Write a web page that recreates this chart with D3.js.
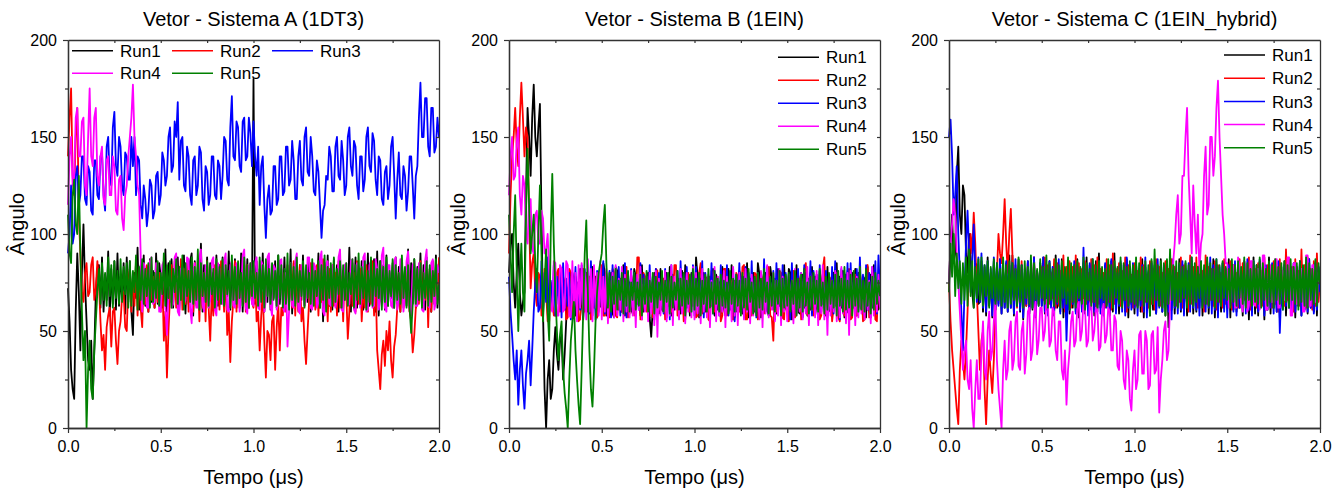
<!DOCTYPE html>
<html>
<head>
<meta charset="utf-8">
<script src="https://cdn.jsdelivr.net/npm/d3@7"></script>
<style>
  body { margin: 0; background: #fff; }
  svg { display: block; font-family: "Liberation Sans", Arial, sans-serif; }
</style>
</head>
<body>
<div class="chart"></div>
<script>
// sampling grid: 241 points over 0..2 us (one row of 20 = 1/6 us)
const tempo = d3.range(241).map(i => i / 120)
const runNames = ["Run1", "Run2", "Run3", "Run4", "Run5"]
const runColors = ["#000000", "#ff0000", "#0000ff", "#ff00ff", "#008000"]
const xTickValues = [0, 0.5, 1, 1.5, 2]
const xTickLabels = ["0.0", "0.5", "1.0", "1.5", "2.0"]
const yTickValues = [0, 50, 100, 150, 200]
const yTickLabels = ["0", "50", "100", "150", "200"]
const titles = ["Vetor - Sistema A (1DT3)", "Vetor - Sistema B (1EIN)", "Vetor - Sistema C (1EIN_hybrid)"]

// ---- Sistema A
const sistemaA_run1 = [
  72, 55, 30, 20, 15, 60, 90, 70, 40, 80, 105, 75, 55, 35, 30, 45, 15, 40, 70, 82,
  84, 62, 88, 60, 79, 66, 91, 58, 82, 64, 86, 61, 90, 63, 78, 67, 85, 59, 88, 65,
  86, 60, 48, 80, 67, 93, 61, 84, 66, 89, 63, 83, 60, 87, 65, 81, 62, 90, 64, 85,
  78, 62, 69, 92, 60, 85, 65, 87, 62, 81, 70, 88, 61, 84, 66, 89, 59, 83, 64, 86,
  90, 58, 86, 64, 83, 67, 95, 60, 84, 66, 88, 62, 85, 65, 80, 61, 89, 63, 84, 67,
  88, 63, 80, 68, 91, 61, 85, 65, 87, 62, 83, 66, 90, 60, 84, 64, 87, 62, 81, 66,
  180, 64, 86, 63, 82, 69, 90, 60, 84, 65, 88, 61, 83, 67, 86, 62, 89, 64, 82, 66,
  88, 62, 81, 67, 92, 59, 85, 64, 87, 61, 84, 66, 89, 63, 80, 65, 86, 60, 83, 67,
  83, 68, 90, 62, 86, 55, 84, 66, 89, 63, 82, 61, 87, 65, 84, 60, 88, 64, 81, 66,
  80, 67, 93, 60, 85, 64, 88, 62, 82, 69, 86, 61, 84, 65, 90, 63, 83, 66, 87, 60,
  91, 58, 86, 65, 84, 61, 89, 63, 80, 67, 85, 62, 88, 64, 83, 60, 86, 66, 82, 63,
  92, 60, 85, 64, 87, 62, 83, 66, 90, 63, 84, 61, 88, 65, 82, 60, 86, 64, 89, 62,
  78]
const sistemaA_run2 = [
  140, 160, 175, 130, 120, 150, 165, 110, 90, 70, 65, 80, 85, 68, 70, 84, 88, 66, 72, 86,
  75, 55, 40, 48, 30, 52, 58, 62, 42, 60, 62, 45, 33, 50, 55, 68, 70, 52, 50, 74,
  82, 60, 78, 63, 86, 58, 80, 62, 52, 80, 64, 84, 60, 86, 66, 78, 62, 84, 65, 80,
  60, 78, 45, 60, 26, 50, 68, 84, 64, 86, 62, 78, 66, 87, 61, 82, 64, 85, 60, 80,
  81, 60, 85, 63, 79, 55, 84, 62, 80, 55, 86, 62, 45, 70, 58, 84, 64, 80, 61, 86,
  75, 60, 82, 48, 60, 34, 55, 66, 86, 60, 84, 62, 78, 65, 86, 60, 84, 62, 80, 65,
  62, 80, 55, 60, 40, 58, 70, 45, 26, 50, 48, 35, 55, 58, 30, 52, 65, 40, 62, 58,
  80, 60, 84, 64, 78, 62, 86, 58, 82, 60, 84, 55, 62, 45, 33, 50, 66, 85, 62, 80,
  61, 84, 58, 79, 65, 87, 62, 76, 55, 82, 60, 84, 63, 80, 58, 86, 62, 78, 55, 82,
  70, 46, 60, 85, 63, 80, 60, 86, 64, 82, 55, 72, 62, 84, 60, 80, 64, 86, 58, 78,
  40, 30, 20, 38, 45, 32, 50, 40, 55, 35, 26, 42, 48, 62, 80, 60, 84, 62, 66, 80,
  84, 60, 55, 39, 48, 62, 78, 64, 86, 62, 80, 66, 84, 52, 82, 60, 86, 64, 80, 66,
  88]
const sistemaA_run3 = [
  90, 100, 125, 95, 100, 130, 135, 115, 120, 140, 140, 118, 115, 135, 132, 112, 110, 138, 138, 120,
  118, 140, 142, 120, 112, 145, 150, 128, 125, 155, 163, 135, 130, 150, 145, 125, 120, 142, 140, 128,
  128, 150, 135, 150, 120, 140, 138, 115, 108, 125, 118, 104, 112, 128, 125, 108, 112, 130, 132, 115,
  120, 142, 138, 125, 130, 150, 155, 132, 135, 158, 150, 168, 128, 148, 150, 125, 122, 145, 140, 120,
  115, 138, 140, 120, 125, 145, 142, 118, 112, 135, 132, 115, 120, 140, 140, 120, 118, 138, 135, 118,
  130, 150, 148, 128, 125, 155, 171, 140, 138, 158, 155, 135, 132, 158, 160, 138, 140, 160, 152, 135,
  158, 140, 130, 145, 115, 135, 140, 115, 98, 118, 125, 110, 112, 135, 135, 115, 118, 140, 140, 120,
  122, 145, 145, 125, 128, 148, 138, 118, 118, 140, 148, 128, 125, 150, 155, 132, 130, 150, 140, 122,
  120, 138, 132, 115, 98, 112, 115, 130, 128, 145, 140, 122, 122, 145, 150, 130, 128, 148, 138, 120,
  125, 150, 155, 135, 130, 148, 145, 125, 118, 140, 140, 122, 128, 150, 155, 135, 132, 152, 148, 128,
  120, 140, 138, 118, 115, 132, 135, 118, 125, 145, 150, 130, 108, 128, 142, 120, 118, 135, 130, 112,
  122, 140, 140, 125, 108, 130, 135, 160, 178, 150, 150, 170, 170, 145, 140, 165, 165, 142, 145, 160,
  150]
const sistemaA_run4 = [
  115, 140, 150, 125, 130, 160, 165, 140, 140, 158, 160, 125, 120, 150, 175, 140, 135, 160, 165, 130,
  125, 140, 145, 118, 115, 138, 140, 120, 120, 140, 135, 112, 110, 128, 130, 108, 102, 120, 125, 140,
  150, 160, 177, 150, 140, 125, 120, 90, 60, 85, 82, 62, 62, 86, 88, 64, 65, 85, 84, 60,
  60, 84, 86, 62, 48, 70, 80, 62, 64, 88, 90, 60, 58, 82, 83, 64, 66, 88, 87, 62,
  54, 80, 85, 62, 62, 88, 92, 64, 60, 84, 84, 62, 66, 86, 88, 61, 58, 85, 82, 64,
  64, 86, 90, 61, 60, 84, 86, 63, 62, 85, 80, 60, 67, 89, 92, 62, 59, 83, 85, 64,
  63, 85, 88, 62, 61, 86, 84, 60, 66, 88, 90, 63, 58, 84, 82, 61, 64, 86, 87, 62,
  60, 80, 42, 60, 85, 63, 62, 86, 90, 61, 59, 84, 84, 63, 66, 88, 88, 62, 61, 85,
  83, 62, 65, 87, 91, 60, 58, 85, 86, 64, 63, 84, 80, 62, 67, 88, 92, 61, 60, 84,
  85, 63, 64, 86, 87, 61, 59, 85, 83, 62, 68, 88, 90, 60, 61, 84, 86, 62, 63, 87,
  82, 61, 66, 89, 93, 62, 60, 84, 84, 63, 62, 86, 88, 61, 65, 87, 81, 60, 67, 86,
  91, 62, 58, 84, 86, 63, 63, 85, 84, 61, 60, 86, 92, 63, 62, 85, 87, 61, 65, 84,
  80]
const sistemaA_run5 = [
  110, 90, 85, 120, 128, 105, 100, 130, 90, 60, 35, 50, 0, 30, 45, 20, 15, 40, 55, 70,
  82, 64, 85, 66, 80, 63, 88, 68, 84, 62, 86, 67, 81, 64, 87, 65, 83, 69, 85, 62,
  86, 63, 81, 70, 89, 61, 83, 66, 87, 64, 82, 68, 85, 62, 88, 65, 80, 67, 86, 63,
  80, 69, 90, 63, 84, 67, 86, 62, 82, 70, 87, 64, 83, 66, 89, 61, 85, 68, 81, 65,
  88, 64, 83, 66, 92, 61, 85, 68, 80, 65, 86, 63, 84, 69, 82, 62, 87, 66, 83, 64,
  87, 63, 84, 69, 81, 62, 89, 66, 83, 64, 86, 67, 80, 63, 88, 65, 84, 62, 85, 68,
  86, 67, 80, 63, 88, 65, 84, 62, 87, 68, 82, 64, 85, 66, 81, 63, 89, 67, 84, 62,
  82, 64, 90, 61, 85, 66, 83, 63, 88, 65, 81, 68, 86, 62, 84, 67, 80, 64, 87, 63,
  81, 68, 86, 62, 84, 66, 89, 60, 83, 67, 85, 63, 88, 65, 82, 69, 86, 62, 84, 66,
  85, 63, 80, 69, 87, 62, 84, 66, 90, 64, 83, 67, 86, 61, 81, 65, 88, 63, 85, 68,
  82, 67, 86, 61, 83, 65, 88, 63, 81, 68, 87, 62, 84, 66, 80, 64, 89, 67, 83, 62,
  84, 62, 49, 64, 87, 64, 82, 66, 85, 62, 80, 67, 86, 63, 84, 65, 81, 68, 87, 64,
  74]

// ---- Sistema B
const sistemaB_run1 = [
  80, 95, 100, 75, 62, 80, 95, 70, 58, 65, 70, 120, 165, 150, 130, 160, 177, 150, 140, 155,
  167, 110, 60, 20, 0, 25, 35, 15, 20, 40, 52, 38, 30, 45, 48, 25, 38, 55, 72, 60,
  60, 80, 76, 58, 75, 62, 82, 64, 56, 78, 80, 60, 76, 58, 83, 62, 78, 57, 76, 63,
  62, 85, 80, 58, 74, 63, 80, 59, 57, 83, 81, 61, 77, 60, 84, 58, 79, 62, 75, 61,
  59, 82, 78, 64, 75, 58, 84, 60, 62, 78, 80, 57, 47, 62, 80, 63, 76, 59, 82, 61,
  60, 76, 80, 63, 83, 58, 79, 61, 62, 75, 77, 59, 81, 60, 84, 62, 76, 58, 80, 63,
  64, 88, 78, 57, 77, 62, 80, 60, 60, 74, 78, 63, 82, 58, 79, 61, 75, 59, 83, 62,
  58, 79, 82, 61, 84, 56, 76, 60, 63, 81, 78, 59, 78, 62, 85, 57, 77, 63, 80, 60,
  62, 85, 79, 57, 75, 64, 80, 61, 58, 83, 77, 61, 77, 59, 82, 63, 76, 57, 84, 62,
  60, 82, 80, 56, 78, 63, 84, 60, 59, 76, 79, 62, 80, 58, 77, 61, 83, 60, 78, 63,
  57, 81, 76, 64, 77, 58, 83, 61, 60, 79, 80, 63, 85, 59, 78, 62, 81, 57, 79, 60,
  59, 76, 80, 62, 82, 58, 80, 63, 61, 78, 77, 57, 83, 60, 79, 62, 84, 58, 76, 61,
  66]
const sistemaB_run2 = [
  90, 120, 140, 150, 165, 145, 135, 160, 178, 160, 140, 155, 150, 110, 72, 85, 90, 70, 63, 80,
  78, 58, 60, 82, 70, 55, 55, 75, 66, 58, 58, 80, 82, 60, 62, 78, 75, 56, 57, 82,
  80, 58, 60, 78, 73, 55, 56, 82, 82, 60, 63, 78, 78, 56, 58, 80, 70, 57, 60, 76,
  84, 58, 58, 80, 76, 57, 62, 82, 80, 58, 57, 74, 72, 60, 64, 83, 83, 57, 59, 79,
  75, 58, 61, 88, 88, 56, 56, 80, 78, 60, 62, 76, 74, 57, 58, 82, 81, 61, 63, 77,
  77, 56, 57, 78, 70, 60, 62, 84, 84, 58, 59, 80, 76, 55, 56, 80, 80, 60, 63, 75,
  72, 57, 58, 80, 85, 59, 61, 78, 77, 56, 55, 81, 79, 60, 63, 78, 73, 55, 58, 82,
  82, 58, 60, 77, 75, 56, 57, 80, 78, 60, 62, 83, 84, 56, 56, 78, 71, 58, 60, 80,
  79, 56, 58, 80, 76, 59, 61, 82, 83, 58, 57, 45, 74, 60, 62, 81, 80, 57, 56, 78,
  73, 55, 60, 70, 81, 57, 60, 79, 76, 56, 58, 82, 85, 59, 57, 80, 78, 58, 61, 79,
  74, 56, 58, 82, 88, 59, 59, 78, 77, 55, 62, 80, 80, 57, 55, 79, 75, 58, 60, 81,
  82, 56, 57, 78, 79, 58, 61, 80, 74, 55, 56, 82, 84, 57, 59, 80, 77, 56, 55, 79,
  68]
const sistemaB_run3 = [
  78, 60, 48, 35, 25, 40, 12, 30, 40, 22, 10, 28, 35, 45, 22, 40, 60, 75, 82, 60,
  62, 86, 58, 80, 65, 88, 60, 76, 62, 84, 58, 78, 64, 82, 57, 85, 61, 77, 63, 80,
  56, 80, 64, 83, 58, 75, 61, 84, 57, 82, 63, 77, 59, 86, 62, 79, 56, 81, 64, 78,
  63, 86, 59, 78, 62, 81, 57, 84, 60, 79, 64, 83, 58, 77, 61, 85, 57, 80, 62, 82,
  64, 80, 58, 77, 61, 85, 57, 79, 63, 76, 59, 84, 62, 78, 56, 82, 60, 80, 63, 77,
  59, 82, 62, 78, 56, 84, 60, 75, 63, 81, 58, 86, 61, 79, 57, 83, 62, 77, 60, 84,
  58, 83, 61, 77, 64, 86, 57, 80, 60, 78, 62, 85, 59, 81, 63, 76, 58, 84, 61, 79,
  62, 84, 58, 76, 61, 82, 55, 79, 63, 85, 60, 78, 57, 83, 62, 80, 59, 86, 61, 77,
  57, 80, 62, 78, 59, 87, 60, 83, 58, 77, 63, 81, 56, 85, 61, 79, 58, 84, 62, 80,
  61, 79, 56, 85, 62, 77, 59, 82, 63, 80, 57, 84, 60, 78, 62, 86, 58, 81, 61, 79,
  58, 84, 60, 76, 62, 81, 57, 79, 61, 83, 59, 86, 63, 78, 56, 82, 60, 80, 62, 85,
  56, 85, 62, 78, 59, 82, 60, 88, 63, 79, 58, 84, 61, 80, 57, 83, 62, 86, 59, 89,
  70]
const sistemaB_run4 = [
  120, 140, 150, 128, 130, 148, 155, 120, 110, 130, 125, 100, 95, 118, 118, 92, 90, 110, 112, 95,
  95, 112, 108, 90, 92, 100, 80, 62, 60, 86, 85, 58, 58, 84, 82, 60, 62, 86, 84, 58,
  57, 86, 60, 80, 55, 84, 62, 85, 58, 80, 56, 87, 60, 82, 55, 84, 62, 80, 58, 86,
  56, 78, 60, 82, 54, 76, 62, 80, 57, 84, 58, 77, 61, 83, 55, 79, 60, 75, 57, 81,
  58, 75, 52, 79, 61, 83, 56, 74, 60, 78, 55, 80, 59, 76, 53, 81, 47, 77, 58, 74,
  60, 81, 55, 76, 58, 84, 53, 78, 61, 75, 56, 82, 59, 77, 54, 80, 60, 76, 57, 83,
  56, 80, 59, 74, 54, 82, 60, 77, 57, 79, 52, 76, 61, 83, 55, 78, 58, 75, 60, 81,
  52, 78, 61, 75, 55, 83, 58, 76, 53, 80, 59, 74, 56, 82, 60, 77, 54, 79, 58, 75,
  60, 74, 56, 81, 52, 77, 59, 84, 57, 75, 61, 80, 55, 76, 58, 82, 53, 78, 60, 74,
  55, 79, 61, 76, 54, 82, 58, 75, 60, 80, 56, 77, 59, 83, 53, 78, 61, 75, 57, 81,
  53, 77, 59, 84, 56, 74, 48, 79, 58, 76, 60, 81, 55, 75, 57, 83, 59, 77, 54, 80,
  48, 81, 60, 75, 53, 78, 57, 82, 59, 74, 56, 80, 61, 76, 54, 83, 58, 77, 60, 79,
  62]
const sistemaB_run5 = [
  110, 90, 70, 100, 120, 80, 50, 75, 95, 70, 60, 110, 144, 115, 90, 100, 110, 85, 70, 100,
  125, 90, 55, 75, 92, 60, 45, 100, 131, 95, 70, 50, 35, 48, 55, 30, 18, 10, 0, 25,
  45, 55, 65, 40, 25, 12, 2, 30, 60, 90, 107, 70, 40, 20, 11, 30, 55, 70, 80, 85,
  90, 105, 115, 85, 62, 80, 60, 78, 64, 82, 61, 76, 66, 80, 59, 77, 63, 81, 60, 75,
  66, 80, 61, 75, 63, 79, 58, 77, 64, 81, 60, 76, 65, 80, 59, 78, 62, 75, 66, 81,
  60, 76, 65, 80, 59, 78, 62, 75, 66, 81, 61, 77, 63, 80, 58, 76, 64, 79, 60, 82,
  61, 77, 63, 80, 58, 76, 64, 79, 60, 82, 62, 75, 59, 81, 64, 77, 60, 79, 63, 76,
  62, 75, 59, 81, 64, 77, 60, 79, 63, 76, 58, 80, 62, 77, 61, 82, 65, 75, 59, 78,
  58, 80, 62, 77, 61, 82, 65, 75, 59, 78, 63, 80, 60, 76, 64, 81, 58, 77, 62, 79,
  63, 80, 60, 76, 64, 81, 58, 77, 62, 79, 60, 82, 63, 75, 59, 78, 61, 80, 64, 76,
  60, 82, 63, 75, 59, 78, 61, 80, 64, 76, 62, 79, 58, 81, 63, 77, 60, 83, 61, 76,
  62, 79, 58, 81, 63, 77, 60, 83, 61, 76, 60, 82, 63, 75, 59, 78, 61, 80, 64, 76,
  68]

// ---- Sistema C
const sistemaC_run1 = [
  75, 95, 110, 85, 90, 130, 145, 110, 100, 125, 120, 90, 80, 100, 88, 70, 62, 85, 84, 64,
  65, 86, 60, 83, 58, 88, 63, 80, 57, 86, 61, 84, 64, 87, 59, 82, 62, 85, 60, 89,
  62, 89, 58, 82, 64, 87, 60, 84, 56, 80, 63, 86, 59, 83, 61, 88, 57, 81, 64, 85,
  63, 88, 59, 84, 61, 86, 64, 81, 58, 89, 62, 83, 60, 87, 57, 82, 63, 85, 59, 80,
  62, 83, 60, 87, 57, 80, 63, 85, 59, 88, 61, 84, 64, 82, 58, 86, 60, 90, 62, 79,
  61, 84, 64, 82, 58, 86, 60, 90, 62, 79, 59, 85, 63, 81, 60, 87, 57, 83, 64, 80,
  59, 85, 63, 81, 60, 87, 57, 83, 64, 80, 58, 86, 61, 84, 59, 80, 63, 87, 60, 83,
  58, 86, 52, 82, 61, 84, 59, 80, 63, 87, 60, 83, 62, 85, 58, 81, 64, 86, 59, 82,
  60, 83, 62, 85, 58, 81, 64, 86, 59, 82, 63, 87, 57, 84, 61, 80, 60, 85, 62, 82,
  63, 87, 57, 84, 61, 80, 60, 85, 62, 82, 58, 86, 63, 83, 56, 80, 61, 88, 59, 84,
  58, 86, 63, 83, 56, 80, 61, 88, 59, 84, 62, 81, 60, 85, 57, 83, 63, 86, 58, 80,
  62, 81, 60, 85, 57, 83, 63, 86, 58, 80, 61, 84, 59, 87, 62, 82, 60, 85, 58, 83,
  70]
const sistemaC_run2 = [
  75, 55, 40, 30, 20, 10, 2, 30, 45, 35, 25, 40, 60, 85, 100, 90, 111, 95, 70, 50,
  30, 45, 50, 20, 2, 25, 40, 28, 18, 35, 60, 80, 100, 90, 85, 100, 118, 95, 80, 100,
  113, 90, 70, 84, 62, 80, 65, 86, 60, 78, 63, 85, 61, 82, 66, 88, 62, 80, 64, 84,
  82, 66, 88, 61, 84, 64, 80, 67, 87, 62, 85, 63, 81, 66, 89, 60, 83, 65, 86, 62,
  83, 65, 89, 60, 85, 66, 82, 63, 86, 64, 80, 62, 87, 65, 84, 61, 88, 64, 82, 66,
  80, 62, 87, 65, 84, 61, 90, 64, 82, 67, 85, 63, 81, 66, 88, 60, 84, 65, 79, 62,
  85, 63, 81, 66, 88, 60, 84, 65, 79, 62, 86, 64, 82, 61, 87, 66, 83, 63, 80, 65,
  86, 64, 82, 61, 87, 66, 83, 63, 80, 65, 88, 62, 84, 67, 81, 60, 89, 64, 83, 66,
  88, 62, 84, 67, 81, 60, 89, 64, 83, 66, 82, 63, 86, 61, 84, 65, 80, 62, 87, 64,
  82, 63, 86, 61, 84, 65, 80, 62, 87, 64, 85, 66, 81, 63, 88, 61, 84, 65, 82, 62,
  85, 66, 81, 63, 88, 61, 84, 65, 82, 62, 86, 64, 83, 60, 87, 65, 81, 63, 92, 66,
  86, 64, 83, 60, 87, 65, 81, 63, 92, 66, 84, 62, 88, 64, 82, 61, 86, 63, 90, 65,
  75]
const sistemaC_run3 = [
  150, 159, 140, 110, 120, 135, 100, 80, 60, 40, 70, 95, 112, 90, 70, 85, 105, 80, 65, 88,
  65, 90, 62, 84, 60, 86, 64, 82, 58, 88, 61, 85, 63, 87, 59, 83, 62, 86, 60, 84,
  62, 85, 59, 87, 63, 80, 61, 84, 57, 82, 64, 86, 60, 83, 62, 88, 58, 81, 63, 85,
  63, 88, 60, 82, 58, 86, 62, 83, 60, 80, 64, 87, 59, 84, 62, 81, 45, 70, 61, 80,
  64, 86, 59, 84, 62, 80, 60, 93, 63, 82, 58, 85, 61, 87, 60, 83, 62, 86, 59, 81,
  58, 85, 62, 81, 60, 87, 64, 83, 59, 80, 63, 86, 60, 84, 58, 88, 62, 82, 61, 85,
  62, 86, 58, 82, 63, 84, 60, 88, 57, 81, 61, 85, 64, 83, 59, 87, 62, 80, 60, 84,
  63, 85, 60, 83, 56, 87, 62, 80, 59, 84, 61, 86, 58, 82, 64, 85, 60, 88, 62, 81,
  61, 82, 58, 86, 63, 81, 60, 85, 62, 88, 59, 84, 61, 87, 57, 83, 63, 85, 60, 82,
  57, 84, 63, 80, 60, 86, 58, 83, 62, 81, 64, 85, 59, 87, 61, 82, 58, 86, 63, 80,
  60, 87, 63, 82, 58, 84, 61, 80, 62, 85, 59, 83, 60, 86, 49, 72, 61, 84, 63, 81,
  62, 83, 59, 85, 60, 81, 63, 86, 58, 82, 61, 84, 60, 87, 62, 80, 59, 85, 61, 83,
  70]
const sistemaC_run4 = [
  75, 95, 105, 118, 110, 90, 75, 60, 45, 30, 40, 45, 25, 20, 35, 10, 0, 20, 35, 15,
  15, 40, 55, 30, 25, 50, 60, 35, 40, 55, 65, 35, 20, 10, 0, 30, 45, 25, 30, 50,
  55, 30, 35, 55, 60, 32, 30, 50, 55, 28, 38, 60, 62, 35, 40, 58, 65, 38, 45, 62,
  62, 45, 50, 66, 65, 42, 45, 62, 60, 40, 35, 55, 55, 30, 25, 40, 12, 30, 40, 55,
  60, 42, 45, 63, 65, 45, 50, 66, 62, 42, 45, 64, 66, 45, 50, 62, 62, 40, 42, 60,
  64, 44, 48, 62, 60, 40, 40, 58, 55, 32, 30, 50, 45, 25, 20, 40, 35, 15, 9, 30,
  40, 20, 25, 48, 50, 28, 28, 50, 45, 20, 22, 48, 50, 28, 30, 52, 8, 25, 35, 50,
  55, 35, 40, 65, 75, 85, 95, 110, 120, 95, 100, 130, 130, 150, 165, 130, 110, 90, 125, 105,
  90, 110, 80, 95, 100, 130, 145, 110, 115, 150, 150, 130, 140, 165, 179, 150, 130, 110, 100, 85,
  85, 62, 65, 84, 84, 62, 62, 88, 83, 64, 60, 86, 83, 60, 63, 86, 86, 64, 63, 82,
  82, 61, 66, 89, 89, 61, 61, 84, 84, 65, 65, 87, 87, 62, 62, 81, 81, 66, 66, 88,
  88, 58, 58, 85, 85, 64, 64, 82, 82, 60, 60, 89, 89, 63, 63, 84, 84, 65, 65, 80,
  80]
const sistemaC_run5 = [
  70, 95, 78, 100, 68, 90, 72, 86, 64, 85, 66, 88, 63, 92, 68, 86, 62, 83, 67, 87,
  66, 88, 63, 84, 68, 86, 62, 83, 67, 87, 64, 85, 66, 82, 63, 88, 65, 84, 62, 86,
  64, 85, 66, 82, 63, 88, 65, 84, 62, 86, 67, 83, 64, 89, 62, 85, 66, 82, 63, 87,
  67, 83, 64, 89, 62, 85, 66, 82, 63, 87, 65, 84, 62, 86, 67, 83, 64, 88, 61, 85,
  65, 84, 62, 86, 67, 83, 64, 88, 61, 85, 66, 82, 63, 87, 65, 84, 62, 86, 67, 83,
  66, 82, 63, 87, 65, 84, 62, 86, 67, 83, 64, 88, 62, 85, 66, 83, 63, 86, 65, 84,
  64, 88, 62, 85, 66, 83, 63, 86, 65, 84, 58, 87, 64, 92, 66, 84, 63, 86, 62, 85,
  58, 87, 64, 92, 66, 84, 63, 86, 62, 85, 65, 83, 67, 86, 62, 84, 64, 88, 63, 85,
  65, 83, 67, 86, 62, 84, 64, 88, 63, 85, 66, 82, 62, 87, 65, 84, 63, 86, 67, 83,
  66, 82, 62, 87, 65, 84, 63, 86, 67, 83, 64, 88, 62, 85, 66, 82, 63, 86, 65, 84,
  64, 88, 62, 85, 66, 82, 63, 86, 65, 84, 62, 87, 66, 83, 64, 85, 61, 86, 65, 84,
  62, 87, 66, 83, 64, 85, 61, 86, 65, 84, 63, 88, 62, 85, 66, 82, 64, 87, 63, 85,
  74]

const width = 1344
const height = 490
const plotTop = 40
const plotW = 371
const plotH = 388

const panels = [
  { title: titles[0], left: 68,
    series: [sistemaA_run1, sistemaA_run2, sistemaA_run3, sistemaA_run4, sistemaA_run5],
    legend: { cols: 3, x: 4, y: 10.7, dx: 100, dy: 22.6 } },
  { title: titles[1], left: 509,
    series: [sistemaB_run1, sistemaB_run2, sistemaB_run3, sistemaB_run4, sistemaB_run5],
    legend: { cols: 1, x: 269, y: 17.3, dx: 0, dy: 23 } },
  { title: titles[2], left: 949,
    series: [sistemaC_run1, sistemaC_run2, sistemaC_run3, sistemaC_run4, sistemaC_run5],
    legend: { cols: 1, x: 275, y: 15, dx: 0, dy: 23.2 } }
]

const svg = d3.select(".chart").append("svg").attr("width", width).attr("height", height)

const xScale = d3.scaleLinear().domain([0, 2]).range([0, plotW])
const yScale = d3.scaleLinear().domain([0, 200]).range([plotH, 0])

const line = d3.line()
  .x((d, i) => xScale(tempo[i]))
  .y(d => yScale(d))

const styleAxis = g => {
  g.select(".domain").attr("stroke", "#333").attr("stroke-width", 1.3)
  g.selectAll(".tick line").attr("stroke", "#333").attr("stroke-width", 1.2)
  g.selectAll(".tick text").attr("fill", "#000").attr("font-size", 16)
}

panels.forEach(p => {
  const graph = svg.append("g").attr("transform", `translate(${p.left}, ${plotTop})`)

  // data lines (Run1 drawn first, Run5 on top)
  p.series.forEach((values, k) => {
    graph.append("path")
      .datum(values)
      .attr("fill", "none")
      .attr("stroke", runColors[k])
      .attr("stroke-width", 1.8)
      .attr("stroke-linejoin", "round")
      .attr("d", line)
  })

  // minor ticks
  graph.append("g")
    .attr("transform", `translate(0, ${plotH})`)
    .call(d3.axisBottom(xScale).tickValues([0.25, 0.75, 1.25, 1.75]).tickSize(3).tickSizeOuter(0).tickFormat(""))
    .call(styleAxis)
  graph.append("g")
    .call(d3.axisLeft(yScale).tickValues([25, 75, 125, 175]).tickSize(3).tickSizeOuter(0).tickFormat(""))
    .call(styleAxis)

  // mirrored inward ticks on top and right
  graph.append("g")
    .call(d3.axisTop(xScale).tickValues(d3.range(0.25, 2, 0.25)).tickSize(-3).tickSizeOuter(0).tickFormat(""))
    .call(styleAxis)
  graph.append("g")
    .attr("transform", `translate(${plotW}, 0)`)
    .call(d3.axisRight(yScale).tickValues(d3.range(25, 200, 25)).tickSize(-3).tickSizeOuter(0).tickFormat(""))
    .call(styleAxis)

  // major axes
  graph.append("g")
    .attr("transform", `translate(0, ${plotH})`)
    .call(d3.axisBottom(xScale).tickValues(xTickValues).tickSize(5).tickPadding(8).tickSizeOuter(0)
      .tickFormat((d, i) => xTickLabels[i]))
    .call(styleAxis)
  graph.append("g")
    .call(d3.axisLeft(yScale).tickValues(yTickValues).tickSize(5).tickPadding(6).tickSizeOuter(0)
      .tickFormat((d, i) => yTickLabels[i]))
    .call(styleAxis)

  // titles
  graph.append("text")
    .attr("x", plotW / 2).attr("y", 26 - plotTop)
    .attr("text-anchor", "middle").attr("font-size", 20)
    .text(p.title)
  graph.append("text")
    .attr("x", plotW / 2).attr("y", 484 - plotTop)
    .attr("text-anchor", "middle").attr("font-size", 20)
    .text("Tempo (\u03bcs)")
  graph.append("text")
    .attr("transform", `translate(-44, ${224 - plotTop}) rotate(-90)`)
    .attr("text-anchor", "middle").attr("font-size", 20)
    .text("Ângulo")

  // legend
  const lg = p.legend
  runNames.forEach((name, k) => {
    const col = k % lg.cols
    const row = Math.floor(k / lg.cols)
    const lx = lg.x + col * lg.dx
    const ly = lg.y + row * lg.dy
    graph.append("line")
      .attr("x1", lx).attr("x2", lx + 41)
      .attr("y1", ly).attr("y2", ly)
      .attr("stroke", runColors[k]).attr("stroke-width", 1.5)
    graph.append("text")
      .attr("x", lx + 48).attr("y", ly)
      .attr("dy", "0.36em")
      .attr("font-size", 17)
      .text(name)
  })
})
</script>
</body>
</html>
